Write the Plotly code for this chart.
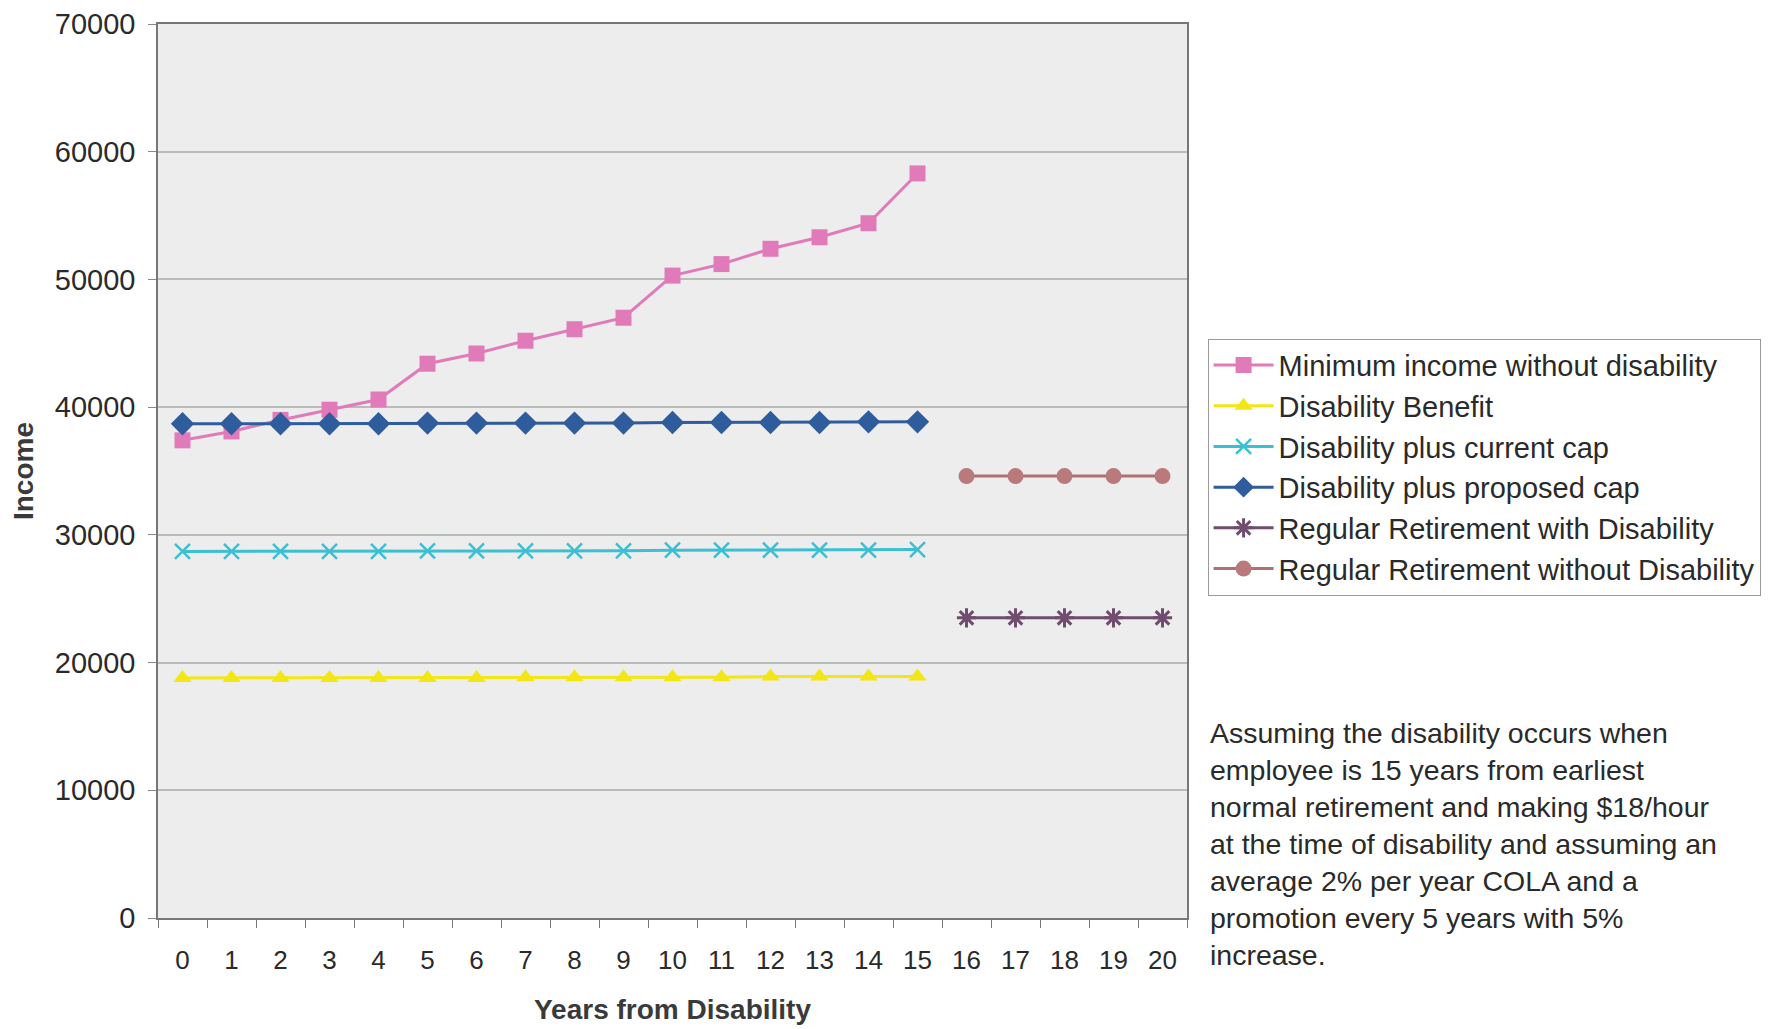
import plotly.graph_objects as go

years = [str(i) for i in range(21)]
years_work = [str(i) for i in range(16)]
years_ret = [str(i) for i in range(16, 21)]

min_income = [37400, 38100, 39000, 39800, 40600, 43400, 44200, 45200, 46100, 47000,
              50300, 51200, 52400, 53300, 54400, 58300]
disability_benefit = [18800, 18800, 18800, 18800, 18800, 18800, 18800, 18850, 18850, 18850,
                      18850, 18850, 18900, 18900, 18900, 18900]
current_cap = [28700, 28700, 28700, 28700, 28700, 28750, 28750, 28750, 28750, 28750,
               28800, 28800, 28800, 28800, 28800, 28850]
proposed_cap = [38700, 38700, 38700, 38700, 38700, 38750, 38750, 38750, 38750, 38750,
                38800, 38800, 38800, 38800, 38850, 38850]
ret_with_dis = [23500, 23500, 23500, 23500, 23500]
ret_without_dis = [34600, 34600, 34600, 34600, 34600]

note = ("Assuming the disability occurs when<br>employee is 15 years from earliest<br>"
        "normal retirement and making $18/hour<br>at the time of disability and assuming an<br>"
        "average 2% per year COLA and a<br>promotion every 5 years with 5%<br>increase.")

fig = go.Figure()

def add(name, x, y, color, symbol, size, lw=3, mline=None, mcolor=None):
    marker = dict(symbol=symbol, size=size, color=mcolor or color)
    if mline is not None:
        marker["line"] = mline
    fig.add_trace(go.Scatter(x=x, y=y, name=name, mode="lines+markers",
                             line=dict(color=color, width=lw), marker=marker))

add("Minimum income without disability", years_work, min_income, "#E17AB9", "square", 16)
add("Disability Benefit", years_work, disability_benefit, "#F2E614", "triangle-up", 16)
add("Disability plus current cap", years_work, current_cap, "#3DBFD3", "x-thin-open", 15,
    mline=dict(color="#3DBFD3", width=2.5))
add("Disability plus proposed cap", years_work, proposed_cap, "#2F5C9C", "diamond", 18)
add("Regular Retirement with Disability", years_ret, ret_with_dis, "#6E4D6E", "asterisk-open", 16,
    mline=dict(color="#6E4D6E", width=3))
add("Regular Retirement without Disability", years_ret, ret_without_dis, "#B07072", "circle", 16,
    mcolor="#BA7A7B")

fig.add_annotation(text=note, xref="paper", yref="paper", x=1.02, y=0.227,
                   xanchor="left", yanchor="top", align="left", showarrow=False,
                   font=dict(family="Arial, Liberation Sans", size=28.5, color="#2a2a2a"))

fig.update_layout(
    width=1775, height=1029,
    margin=dict(l=150, r=596, t=16, b=119, autoexpand=False),
    paper_bgcolor="white",
    plot_bgcolor="#EDEDED",
    font=dict(family="Arial, Liberation Sans", color="#2a2a2a"),
    showlegend=True,
    legend=dict(x=1.02, y=0.648, xanchor="left", yanchor="top",
                bordercolor="#9a9a9a", borderwidth=1, bgcolor="white",
                font=dict(size=29, color="#2a2a2a"), tracegroupgap=0,
                itemwidth=60),
    xaxis=dict(type="category", categoryorder="array", categoryarray=years,
               range=[-0.5, 20.5], tickson="boundaries", ticks="outside", ticklen=8,
               tickcolor="#777", showgrid=False, showline=True, linecolor="#777",
               linewidth=1.5, mirror=True, automargin=False, ticklabelstandoff=18,
               tickfont=dict(size=26, color="#2a2a2a"),
               title=dict(text="<b>Years from Disability</b>", standoff=25,
                          font=dict(size=28, color="#3a3a3a"))),
    yaxis=dict(range=[0, 70000], dtick=10000, ticks="outside", ticklen=8,
               tickformat="d", automargin=False, ticklabelstandoff=7,
               tickcolor="#888", showgrid=True, gridcolor="#B9BDBA", gridwidth=1.5,
               showline=True, linecolor="#777", linewidth=1.5, mirror=True,
               zeroline=False,
               tickfont=dict(size=29, color="#2a2a2a"),
               title=dict(text="<b>Income</b>", standoff=14,
                          font=dict(size=28, color="#3a3a3a"))),
)

fig.write_html("out.html")
